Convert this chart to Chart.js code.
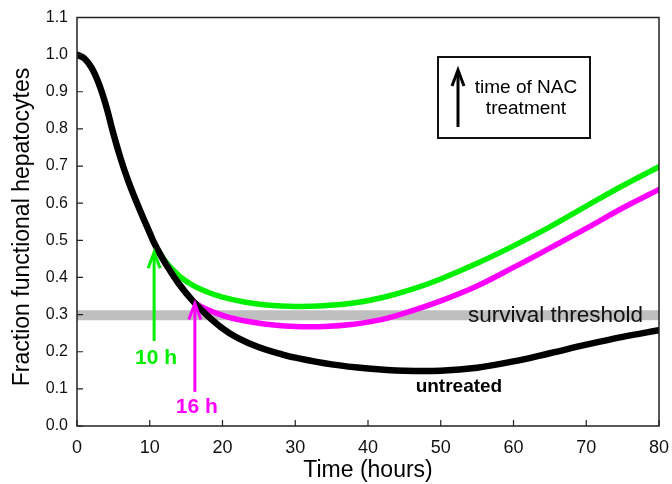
<!DOCTYPE html>
<html>
<head>
<meta charset="utf-8">
<script src="https://cdn.jsdelivr.net/npm/chart.js@4"></script>
<style>
  html, body { margin: 0; padding: 0; background: #fff; }
  #wrap { width: 672px; height: 484px; }
</style>
</head>
<body>
<div id="wrap"><canvas id="chart" width="672" height="484"></canvas></div>
<script>
// Werte
const xTicks = [0, 10, 20, 30, 40, 50, 60, 70, 80];
const yTicks = [0.0, 0.1, 0.2, 0.3, 0.4, 0.5, 0.6, 0.7, 0.8, 0.9, 1.0, 1.1];

const timeUntreated = [0, 1, 2, 3, 4, 5, 6, 7, 8, 9, 10, 10.5, 11, 12, 14, 16, 18, 20, 22, 25, 28, 30, 35, 40, 45, 50, 55, 60, 65, 70, 75, 80];
const valUntreated  = [1.0, 0.99, 0.965, 0.922, 0.862, 0.787, 0.72, 0.662, 0.612, 0.565, 0.52, 0.497, 0.478, 0.443, 0.383, 0.335, 0.296, 0.263, 0.238, 0.212, 0.194, 0.184, 0.166, 0.155, 0.149, 0.149, 0.157, 0.174, 0.196, 0.219, 0.24, 0.258];

const time10h = [10.5, 12, 14, 16, 18, 20, 23, 26, 30, 34, 38, 42, 46, 50, 55, 60, 65, 70, 75, 80];
const val10h  = [0.497, 0.447, 0.405, 0.378, 0.36, 0.347, 0.334, 0.326, 0.322, 0.324, 0.331, 0.346, 0.368, 0.396, 0.438, 0.485, 0.536, 0.592, 0.647, 0.698];

const time16h = [16, 17, 19, 21, 24, 27, 30, 34, 38, 42, 46, 50, 55, 60, 65, 70, 75, 80];
const val16h  = [0.335, 0.322, 0.305, 0.292, 0.28, 0.272, 0.268, 0.268, 0.274, 0.287, 0.31, 0.337, 0.377, 0.427, 0.479, 0.532, 0.587, 0.637];

const thresholdTime = [0, 80];
const thresholdVal  = [0.298, 0.298];

// Pfeile für Behandlungszeitpunkt
const arrowTime  = [10.6, 16.2];
const arrowBase  = [0.229, 0.092];
const arrowTip   = [0.468, 0.33];
const arrowLabel = ["10 h", "16 h"];
const arrowLabelY = [0.183, 0.051];

const GREEN = "#00f000";
const MAGENTA = "#ff00ff";
const FONT = "'Liberation Sans', Arial, sans-serif";

function toPoints(xs, ys) {
    return xs.map((x, i) => ({ x: x, y: ys[i] }));
}

function drawArrow(ctx, x, yBase, yTip, color, width) {
    ctx.save();
    ctx.strokeStyle = color;
    ctx.lineWidth = width;
    ctx.lineCap = "butt";
    ctx.beginPath();
    ctx.moveTo(x, yBase);
    ctx.lineTo(x, yTip + 1);
    ctx.stroke();
    ctx.beginPath();
    ctx.moveTo(x - 6, yTip + 16);
    ctx.lineTo(x, yTip);
    ctx.lineTo(x + 6, yTip + 16);
    ctx.stroke();
    ctx.restore();
}

const overlayPlugin = {
    id: "overlay",
    afterDatasetsDraw(chart) {
        const ctx = chart.ctx;
        const xs = chart.scales.x;
        const ys = chart.scales.y;
        const area = chart.chartArea;

        // Rahmen
        ctx.save();
        ctx.strokeStyle = "#222";
        ctx.lineWidth = 1.5;
        ctx.strokeRect(area.left, area.top, area.right - area.left, area.bottom - area.top);

        // Ticks nach innen
        ctx.lineWidth = 1.2;
        ctx.beginPath();
        xTicks.forEach(v => {
            const px = xs.getPixelForValue(v);
            ctx.moveTo(px, area.bottom);
            ctx.lineTo(px, area.bottom - 6);
        });
        yTicks.forEach(v => {
            const py = ys.getPixelForValue(v);
            ctx.moveTo(area.left, py);
            ctx.lineTo(area.left + 6, py);
        });
        ctx.stroke();
        ctx.restore();

        // y-Achsentitel
        ctx.save();
        ctx.translate(23, 227);
        ctx.rotate(-Math.PI / 2);
        ctx.fillStyle = "#000";
        ctx.font = "23px " + FONT;
        ctx.textAlign = "center";
        ctx.textBaseline = "middle";
        ctx.fillText("Fraction functional hepatocytes", 0, 0);
        ctx.restore();

        // Pfeile und Beschriftungen
        const colors = [GREEN, MAGENTA];
        arrowTime.forEach((t, i) => {
            const px = xs.getPixelForValue(t);
            drawArrow(ctx, px, ys.getPixelForValue(arrowBase[i]), ys.getPixelForValue(arrowTip[i]), colors[i], 3);
            ctx.save();
            ctx.fillStyle = colors[i];
            ctx.font = "bold 21px " + FONT;
            ctx.textAlign = "center";
            ctx.textBaseline = "middle";
            ctx.fillText(arrowLabel[i], px + 2, ys.getPixelForValue(arrowLabelY[i]));
            ctx.restore();
        });

        ctx.save();
        ctx.fillStyle = "#000";
        ctx.font = "bold 19px " + FONT;
        ctx.textAlign = "center";
        ctx.textBaseline = "middle";
        ctx.fillText("untreated", xs.getPixelForValue(52.5), ys.getPixelForValue(0.105));

        ctx.font = "22.5px " + FONT;
        ctx.textAlign = "right";
        ctx.fillStyle = "#111";
        ctx.fillText("survival threshold", xs.getPixelForValue(77.8), ys.getPixelForValue(0.298));
        ctx.restore();

        // Legendenbox
        ctx.save();
        ctx.strokeStyle = "#111";
        ctx.lineWidth = 2;
        ctx.strokeRect(438, 57, 152, 81);
        drawArrow(ctx, 458, 127, 70, "#000", 3);
        ctx.fillStyle = "#000";
        ctx.font = "19px " + FONT;
        ctx.textAlign = "center";
        ctx.textBaseline = "middle";
        ctx.fillText("time of NAC", 526, 88);
        ctx.fillText("treatment", 526, 109);
        ctx.restore();
    }
};

const ctx = document.getElementById("chart").getContext("2d");

new Chart(ctx, {
    type: "line",
    data: {
        datasets: [
            {
                label: "threshold",
                data: toPoints(thresholdTime, thresholdVal),
                borderColor: "#bfbfbf",
                borderWidth: 10,
                borderCapStyle: "butt",
                pointRadius: 0,
                order: 4
            },
            {
                label: "untreated",
                data: toPoints(timeUntreated, valUntreated),
                borderColor: "#000",
                borderWidth: 6.5,
                borderCapStyle: "round",
                pointRadius: 0,
                tension: 0.4,
                order: 1
            },
            {
                label: "10 h",
                data: toPoints(time10h, val10h),
                borderColor: GREEN,
                borderWidth: 5.5,
                borderCapStyle: "round",
                pointRadius: 0,
                tension: 0.4,
                order: 3
            },
            {
                label: "16 h",
                data: toPoints(time16h, val16h),
                borderColor: MAGENTA,
                borderWidth: 5.5,
                borderCapStyle: "round",
                pointRadius: 0,
                tension: 0.4,
                order: 2
            }
        ]
    },
    options: {
        responsive: false,
        animation: false,
        events: [],
        layout: { padding: { top: 17.5, right: 13, left: 0, bottom: 0 } },
        plugins: {
            legend: { display: false },
            tooltip: { enabled: false }
        },
        scales: {
            x: {
                type: "linear",
                min: 0,
                max: 80,
                afterFit: s => { s.height = 58; s.paddingLeft = 0; s.paddingRight = 0; },
                afterBuildTicks: s => { s.ticks = xTicks.map(v => ({ value: v })); },
                grid: { display: false, drawTicks: false },
                border: { display: false },
                ticks: {
                    padding: 11,
                    color: "#111",
                    font: { family: FONT, size: 18 }
                },
                title: {
                    display: true,
                    text: "Time (hours)",
                    color: "#000",
                    font: { family: FONT, size: 23 },
                    padding: { top: 0, bottom: 0 }
                }
            },
            y: {
                type: "linear",
                min: 0,
                max: 1.1,
                afterFit: s => { s.width = 77; s.paddingTop = 0; s.paddingBottom = 0; },
                afterBuildTicks: s => { s.ticks = yTicks.map(v => ({ value: v })); },
                grid: { display: false, drawTicks: false },
                border: { display: false },
                ticks: {
                    padding: 9,
                    color: "#111",
                    font: { family: FONT, size: 16 },
                    callback: v => Number(v).toFixed(1)
                },
                title: { display: false }
            }
        }
    },
    plugins: [overlayPlugin]
});
</script>
</body>
</html>
